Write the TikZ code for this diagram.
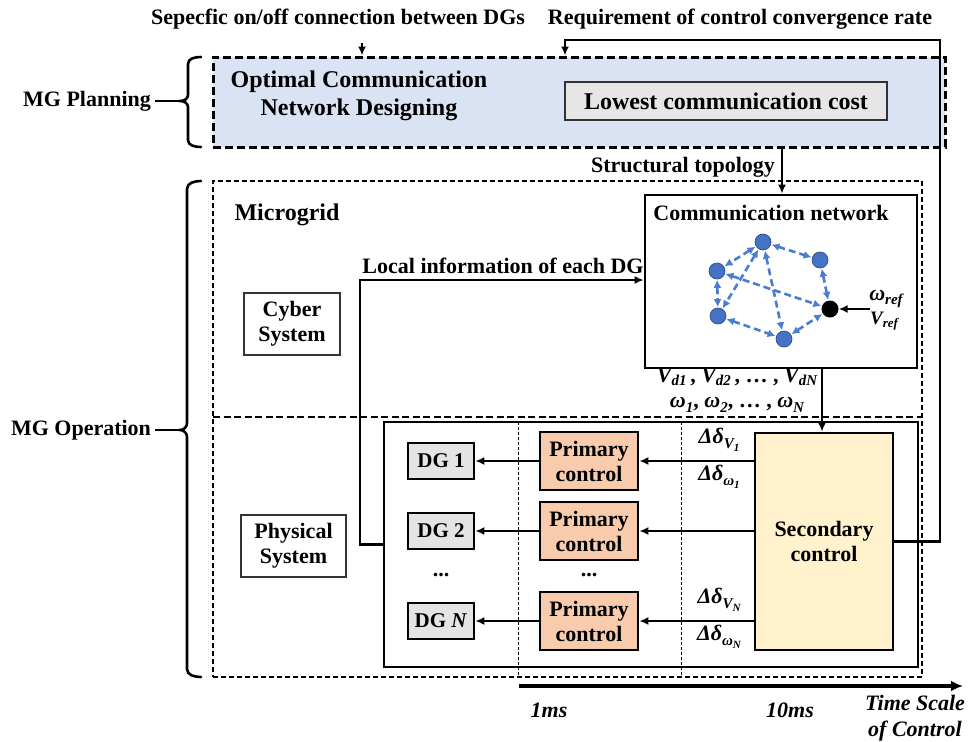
\documentclass[tikz,border=0pt]{standalone}
\usepackage{fontspec}
\setmainfont{Liberation Serif}
\usetikzlibrary{arrows.meta,calc}
\definecolor{planblue}{HTML}{DAE3F3}
\definecolor{costgray}{HTML}{E7E6E6}
\definecolor{dggray}{HTML}{E4E4E4}
\definecolor{primfill}{HTML}{F8CBAD}
\definecolor{secfill}{HTML}{FFF2CC}
\definecolor{netblue}{HTML}{4472C4}
\definecolor{netedge}{HTML}{4A7CD0}
\newcommand{\bi}[1]{{\bfseries\itshape #1}}
\newcommand{\sbs}[1]{\raisebox{-4.5pt}{\fontsize{15}{16}\selectfont\bfseries\itshape #1}}
\newcommand{\sbt}[1]{\raisebox{-3.5pt}{\fontsize{15}{16}\selectfont\bfseries\itshape #1}}
\newcommand{\ssbs}[1]{\raisebox{-3pt}{\fontsize{11}{12}\selectfont\bfseries #1}}
\begin{document}
\begin{tikzpicture}[x=1pt,y=-1pt,
  font=\bfseries\fontsize{22}{25}\selectfont,
  arr/.style={line width=2.6pt,-{Latex[length=9pt,width=8pt]}},
  thickbox/.style={draw,line width=2.8pt,inner sep=0pt,align=center},
  thinbox/.style={draw=black!80,line width=1.1pt,inner sep=0pt,align=center},
  netnode/.style={circle,fill=netblue,draw=netblue!70!black,line width=0.7pt,minimum size=16pt,inner sep=0pt},
  netedge/.style={draw=netedge,line width=2.6pt,dash pattern=on 7pt off 4pt,{Latex[length=8pt,width=8pt]}-{Latex[length=8pt,width=8pt]},shorten <=0.5pt,shorten >=0.5pt},
  bracestyle/.style={line width=2.6pt,line cap=round},
  lab/.style={inner sep=0pt,align=center}]
\useasboundingbox (0,0) rectangle (970,742);

% ---------- MG planning ----------
\node[draw,line width=3pt,dash pattern=on 8pt off 4pt,fill=planblue,minimum width=732pt,minimum height=90pt,inner sep=0pt] (plan) at (579,102) {};
\node[lab,font=\bfseries\fontsize{24}{28}\selectfont] (opt) at (359,96) {Optimal Communication\\Network Designing};
\node[thinbox,fill=costgray,minimum width=322pt,minimum height=38pt,font=\bfseries\fontsize{24}{28}\selectfont] (cost) at (726,101) {Lowest communication cost};

\node[lab] (tl) at (338,19) {Sepecfic on/off connection between DGs};
\node[lab] (tr) at (740,19) {Requirement of control convergence rate};
\coordinate (a1) at (362,43);
\draw[arr] (a1) -- (a1 |- plan.north);

\node[lab] (mgp) at (87,101) {MG Planning};
\node[lab] (mgo) at (81,430) {MG Operation};

% braces
\coordinate (bp) at (180,101);
\coordinate (bo) at (180,430);
\draw[bracestyle] (201,57) to[out=180,in=90] (188,64) -- (188,95) to[out=-90,in=0] (bp) to[out=0,in=90] (188,107) -- (188,140) to[out=-90,in=180] (201,147);
\draw[bracestyle] (201,181) to[out=180,in=90] (187,189) -- (187,423) to[out=-90,in=0] (bo) to[out=0,in=90] (187,437) -- (187,669) to[out=-90,in=180] (201,677);
\draw[line width=2.6pt] (mgp.east) ++(4,0) -- (bp);
\draw[line width=2.6pt] (mgo.east) ++(4,0) -- (bo);

% ---------- Microgrid ----------
\node[draw,line width=1.4pt,dash pattern=on 5pt off 3pt,minimum width=709pt,minimum height=496pt,inner sep=0pt] (mg) at (567.5,429) {};
\coordinate (hl) at (213,417);
\draw[line width=1.5pt,dash pattern=on 7pt off 3.5pt] (hl) -- (hl -| mg.east);
\node[lab,font=\bfseries\fontsize{24}{28}\selectfont] (mgt) at (287,215) {Microgrid};
\node[thinbox,minimum width=96pt,minimum height=62pt] (cyber) at (292,324) {Cyber\\System};
\node[thinbox,minimum width=105pt,minimum height=62pt] (phys) at (293.5,546) {Physical\\System};

% communication network
\node[thickbox,minimum width=272pt,minimum height=173pt] (comm) at (781,281.5) {};
\node[lab] (commt) at (771,213) {Communication network};
\node[netnode] (n1) at (763,242) {};
\node[netnode] (n2) at (820,260) {};
\node[netnode] (n3) at (717,271) {};
\node[netnode] (n5) at (718,316) {};
\node[netnode] (n6) at (784,339) {};
\node[circle,fill=black,minimum size=17pt,inner sep=0pt] (n4) at (830,309) {};
\draw[netedge] (n1) -- (n3);
\draw[netedge] (n1) -- (n2);
\draw[netedge] (n1) -- (n5);
\draw[netedge] (n1) -- (n6);
\draw[netedge] (n3) -- (n4);
\draw[netedge] (n3) -- (n5);
\draw[netedge] (n5) -- (n6);
\draw[netedge] (n2) -- (n4);
\draw[netedge] (n6) -- (n4);
\coordinate (wr) at (870,309);
\draw[arr] (wr) -- (n4);
\node[lab] (wref) at (886,299) {\bi{ω}\sbs{ref}};
\node[lab,font=\bfseries\fontsize{19}{20}\selectfont] (vref) at (884,321) {\bi{V}\raisebox{-3.5pt}{\fontsize{13}{14}\selectfont\bfseries\itshape ref}};

\node[lab] (stt) at (683,167) {Structural topology};
\coordinate (st) at (782,147);
\draw[arr] (st) -- (st |- comm.north);

\node[lab] (vd) at (737,377) {\bi{V}\sbt{d1}\,, \bi{V}\sbt{d2}\,, … , \bi{V}\sbt{dN}};
\node[lab] (om) at (737,405) {\bi{ω}\sbs{1}, \bi{ω}\sbs{2}, … , \bi{ω}\sbs{N}};

% ---------- Physical system ----------
\node[thickbox,minimum width=534pt,minimum height=245pt] (pbox) at (651,544.5) {};
\coordinate (v1) at (518,422);
\coordinate (v2) at (681,422);
\draw[line width=1pt,dash pattern=on 3pt off 2pt] (v1) -- (v1 |- mg.south);
\draw[line width=1pt,dash pattern=on 3pt off 2pt] (v2) -- (v2 |- mg.south);

\node[thickbox,fill=secfill,minimum width=138pt,minimum height=217pt] (sec) at (824,541.5) {Secondary\\control};

\node[thickbox,fill=primfill,minimum width=98pt,minimum height=58pt] (p1) at (589,461) {Primary\\control};
\node[thickbox,fill=primfill,minimum width=98pt,minimum height=58pt] (p2) at (589,531) {Primary\\control};
\node[thickbox,fill=primfill,minimum width=98pt,minimum height=58pt] (p3) at (589,621) {Primary\\control};

\node[thickbox,fill=dggray,minimum width=66pt,minimum height=36pt,font=\bfseries\fontsize{21}{24}\selectfont] (d1) at (441,461) {DG 1};
\node[thickbox,fill=dggray,minimum width=66pt,minimum height=36pt,font=\bfseries\fontsize{21}{24}\selectfont] (d2) at (441,531) {DG 2};
\node[thickbox,fill=dggray,minimum width=66pt,minimum height=36pt,font=\bfseries\fontsize{21}{24}\selectfont] (d3) at (441,621) {DG \textit{N}};
\node[lab] (dots1) at (441,575) {...};
\node[lab] (dots2) at (589,575) {...};

\draw[arr] (p1.west) -- (d1.east);
\draw[arr] (p2.west) -- (d2.east);
\draw[arr] (p3.west) -- (d3.east);
\draw[arr] (sec.west |- p1) -- (p1.east);
\draw[arr] (sec.west |- p2) -- (p2.east);
\draw[arr] (sec.west |- p3) -- (p3.east);

\node[lab] (dv1) at (719,440) {\bi{Δδ}\sbs{V\ssbs{1}}};
\node[lab] (dw1) at (719,477) {\bi{Δδ}\sbs{ω\ssbs{1}}};
\node[lab] (dvn) at (719,600) {\bi{Δδ}\sbs{V\ssbs{N}}};
\node[lab] (dwn) at (719,637) {\bi{Δδ}\sbs{ω\ssbs{N}}};

% connectors between parts
\coordinate (cd) at (822,368);
\draw[arr] (cd) -- (cd |- sec.north);
\coordinate (li) at (360,280);
\draw[arr] (pbox.west) -| (li) -- (li -| comm.west);
\node[lab] (lit) at (503,266) {Local information of each DG};
\coordinate (r1) at (940,40);
\coordinate (r2) at (565,40);
\draw[arr] (sec.east) -| (r1) -- (r2) -- (r2 |- plan.north);

% ---------- time scale ----------
\coordinate (t0) at (519,686);
\coordinate (t1) at (963,686);
\draw[line width=3.4pt,-{Latex[length=12pt,width=11pt]}] (t0) -- (t1);
\node[lab,font=\bfseries\itshape\fontsize{22}{25}\selectfont] (ms1) at (549,710) {1ms};
\node[lab,font=\bfseries\itshape\fontsize{22}{25}\selectfont] (ms10) at (790,710) {10ms};
\node[lab,font=\bfseries\itshape\fontsize{22}{26}\selectfont,align=center] (tsc) at (915,718) {Time Scale\\of Control};
\end{tikzpicture}
\end{document}
